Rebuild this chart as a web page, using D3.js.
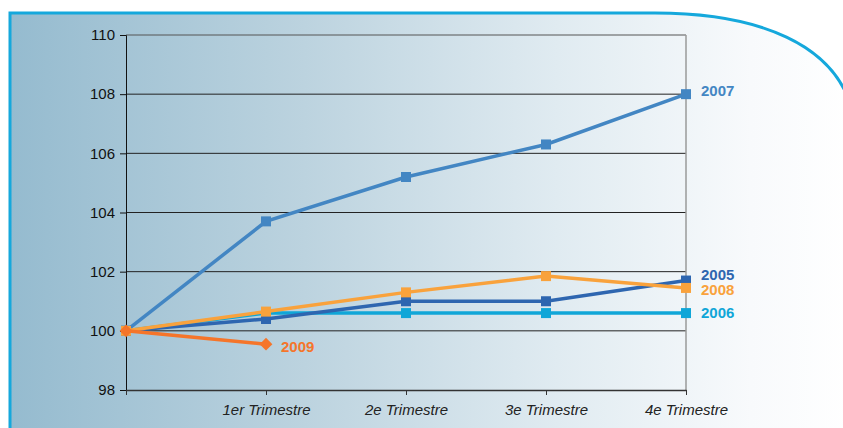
<!DOCTYPE html>
<html>
<head>
<meta charset="utf-8">
<script src="https://cdn.jsdelivr.net/npm/d3@7"></script>
<style>
  html, body { margin: 0; padding: 0; background: #fff; }
  svg { display: block; font-family: Arial, "Liberation Sans", sans-serif; }
</style>
</head>
<body>
<svg id="chart"></svg>
<script>
// Data
const categories = ["", "1er Trimestre", "2e Trimestre", "3e Trimestre", "4e Trimestre"];
const s2007 = [100, 103.7, 105.2, 106.3, 108.0];
const s2006 = [100, 100.6, 100.6, 100.6, 100.6];
const s2005 = [100, 100.4, 101.0, 101.0, 101.7];
const s2008 = [100, 100.65, 101.3, 101.85, 101.45];
const s2009 = [100, 99.55];
const yTicks = [98, 100, 102, 104, 106, 108, 110];

const series = [
  { name: "2007", values: s2007, color: "#4386c3", marker: "square", dy: -3 },
  { name: "2006", values: s2006, color: "#10a6d8", marker: "square", dy: 0 },
  { name: "2005", values: s2005, color: "#2e66b0", marker: "square", dy: -6 },
  { name: "2008", values: s2008, color: "#f9a23c", marker: "square", dy: 2 },
  { name: "2009", values: s2009, color: "#f5752a", marker: "diamond", dy: 3 }
];

const width = 843;
const height = 428;
const margin = { top: 35, right: 157, bottom: 38, left: 126 };

const svg = d3.select("#chart")
  .attr("width", width)
  .attr("height", height);

// background gradient panel
const defs = svg.append("defs");
const grad = defs.append("linearGradient")
  .attr("id", "bg")
  .attr("x1", "0%").attr("x2", "100%")
  .attr("y1", "0%").attr("y2", "0%");
grad.append("stop").attr("offset", "0%").attr("stop-color", "#95bbcf");
grad.append("stop").attr("offset", "35%").attr("stop-color", "#bcd3df");
grad.append("stop").attr("offset", "65%").attr("stop-color", "#e0ebf1");
grad.append("stop").attr("offset", "88%").attr("stop-color", "#f8fafc");
grad.append("stop").attr("offset", "100%").attr("stop-color", "#ffffff");

const framePath = "M10,13 L655,13 C760,13 835,45 852,110 L852,430 L10,430 Z";
svg.append("path")
  .attr("d", framePath)
  .attr("fill", "url(#bg)");

// frame border (left + top + curve)
svg.append("path")
  .attr("d", "M10,430 L10,13 L655,13 C760,13 835,45 852,110")
  .attr("fill", "none")
  .attr("stroke", "#15a8dc")
  .attr("stroke-width", 3);

const innerW = width - margin.left - margin.right;
const innerH = height - margin.top - margin.bottom;

const x = d3.scalePoint()
  .domain(d3.range(categories.length))
  .range([0, innerW]);

const y = d3.scaleLinear()
  .domain([98, 110])
  .range([innerH, 0]);

const g = svg.append("g")
  .attr("transform", `translate(${margin.left},${margin.top})`);

// horizontal gridlines
g.append("g")
  .selectAll("line")
  .data(yTicks.slice(1))
  .enter()
  .append("line")
  .attr("x1", 0)
  .attr("x2", innerW)
  .attr("y1", d => y(d))
  .attr("y2", d => y(d))
  .attr("stroke", d => d === 110 ? "#555" : "#222")
  .attr("stroke-width", 1);

// right border of plot
g.append("line")
  .attr("x1", innerW).attr("x2", innerW)
  .attr("y1", 0).attr("y2", innerH)
  .attr("stroke", "#9a9a9a")
  .attr("stroke-width", 1.5);

// y axis
const yAxis = g.append("g")
  .call(d3.axisLeft(y).tickValues(yTicks).tickSize(6).tickPadding(5));
yAxis.select(".domain").attr("stroke", "#111");
yAxis.selectAll(".tick line").attr("stroke", "#111");
yAxis.selectAll("text")
  .attr("font-size", 15)
  .attr("fill", "#111");

// x axis
const xAxis = g.append("g")
  .attr("transform", `translate(0,${innerH})`)
  .call(d3.axisBottom(x).tickFormat(i => categories[i]).tickSize(5).tickSizeOuter(0).tickPadding(9));
xAxis.select(".domain").attr("stroke", "#333").attr("stroke-width", 1.5);
xAxis.selectAll(".tick line").attr("stroke", "#333");
xAxis.selectAll("text")
  .attr("font-size", 15)
  .attr("font-style", "italic")
  .attr("fill", "#222");

// lines
const line = d3.line()
  .x((d, i) => x(i))
  .y(d => y(d));

series.forEach(s => {
  const sg = g.append("g");

  sg.append("path")
    .datum(s.values)
    .attr("d", line)
    .attr("fill", "none")
    .attr("stroke", s.color)
    .attr("stroke-width", 3.5);

  if (s.marker === "square") {
    sg.selectAll("rect")
      .data(s.values)
      .enter()
      .append("rect")
      .attr("x", (d, i) => x(i) - 5)
      .attr("y", d => y(d) - 5)
      .attr("width", 10)
      .attr("height", 10)
      .attr("fill", s.color);
  } else {
    sg.selectAll("rect")
      .data(s.values)
      .enter()
      .append("rect")
      .attr("x", -4.5)
      .attr("y", -4.5)
      .attr("width", 9)
      .attr("height", 9)
      .attr("transform", (d, i) => `translate(${x(i)},${y(d)}) rotate(45)`)
      .attr("fill", s.color);
  }

  const last = s.values.length - 1;
  sg.append("text")
    .attr("x", x(last) + 15)
    .attr("y", y(s.values[last]) + s.dy)
    .attr("dy", "0.35em")
    .attr("font-size", 15)
    .attr("font-weight", "bold")
    .attr("fill", s.color)
    .text(s.name);
});
</script>
</body>
</html>
